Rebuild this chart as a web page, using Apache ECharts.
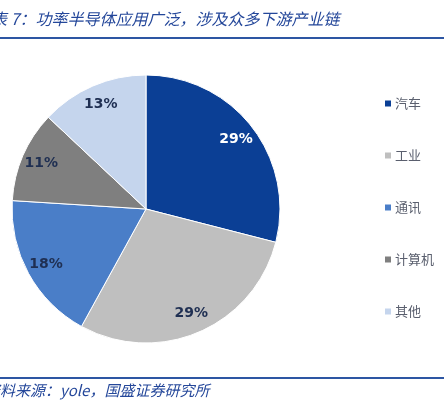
<!DOCTYPE html>
<html>
<head>
<meta charset="utf-8">
<script src="https://cdn.jsdelivr.net/npm/echarts@6/dist/echarts.min.js"></script>
<style>
  html, body { margin: 0; padding: 0; background: #fff; }
  #chart { width: 444px; height: 404px; }
</style>
</head>
<body>
<div id="chart"></div>
<script>
// data
const categories = ['汽车', '工业', '通讯', '计算机', '其他'];
const shares = [29, 29, 18, 11, 13];
const colors = ['#0b3f95', '#bfbfbf', '#4a7ec8', '#7f7f7f', '#c5d5ed'];
const labelColors = ['#ffffff', '#1f2f52', '#1f2f52', '#1f2f52', '#1f2f52'];

const titleText = '表 7：功率半导体应用广泛，涉及众多下游产业链';
const sourceText = '资料来源：yole，国盛证券研究所';

const pieData = categories.map((name, i) => ({
  name: name,
  value: shares[i],
  itemStyle: { color: colors[i] }
}));

// transparent ring only used to place the % labels further out
const labelData = categories.map((name, i) => ({
  name: name,
  value: shares[i],
  label: { color: labelColors[i] }
}));

const chart = echarts.init(document.getElementById('chart'));
chart.setOption({
  animation: false,
  graphic: [
    {
      type: 'text', left: -9, top: 11,
      style: {
        text: titleText, fill: '#24479a',
        font: 'italic 16px "Noto Sans CJK SC"'
      }
    },
    { type: 'rect', shape: { x: 0, y: 37, width: 444, height: 2 }, style: { fill: '#2d56a3' } },
    { type: 'rect', shape: { x: 0, y: 377, width: 444, height: 2 }, style: { fill: '#2d56a3' } },
    {
      type: 'text', left: -15, top: 383,
      style: {
        text: sourceText, fill: '#24479a',
        font: 'italic 15px "Noto Sans CJK SC"'
      }
    }
  ],
  legend: {
    orient: 'vertical',
    left: 378,
    top: 92,
    itemWidth: 8,
    itemHeight: 8,
    itemGap: 39,
    icon: 'rect',
    data: categories,
    textStyle: {
      color: '#5a5f6e',
      fontSize: 13,
      fontFamily: 'Noto Sans CJK SC',
      padding: [0, 0, 0, -2]
    }
  },
  series: [
    {
      type: 'pie',
      center: [146, 209],
      radius: 134,
      startAngle: 90,
      clockwise: true,
      silent: true,
      label: { show: false },
      labelLine: { show: false },
      itemStyle: { borderColor: '#ffffff', borderWidth: 1 },
      data: pieData
    },
    {
      type: 'pie',
      center: [146, 209],
      radius: [84, 138],
      startAngle: 90,
      clockwise: true,
      silent: true,
      legendHoverLink: false,
      itemStyle: { color: 'transparent' },
      label: {
        show: true,
        position: 'inside',
        formatter: '{c}%',
        fontSize: 14,
        fontWeight: 'bold',
        fontFamily: 'DejaVu Sans'
      },
      labelLine: { show: false },
      data: labelData
    }
  ]
});
</script>
</body>
</html>
